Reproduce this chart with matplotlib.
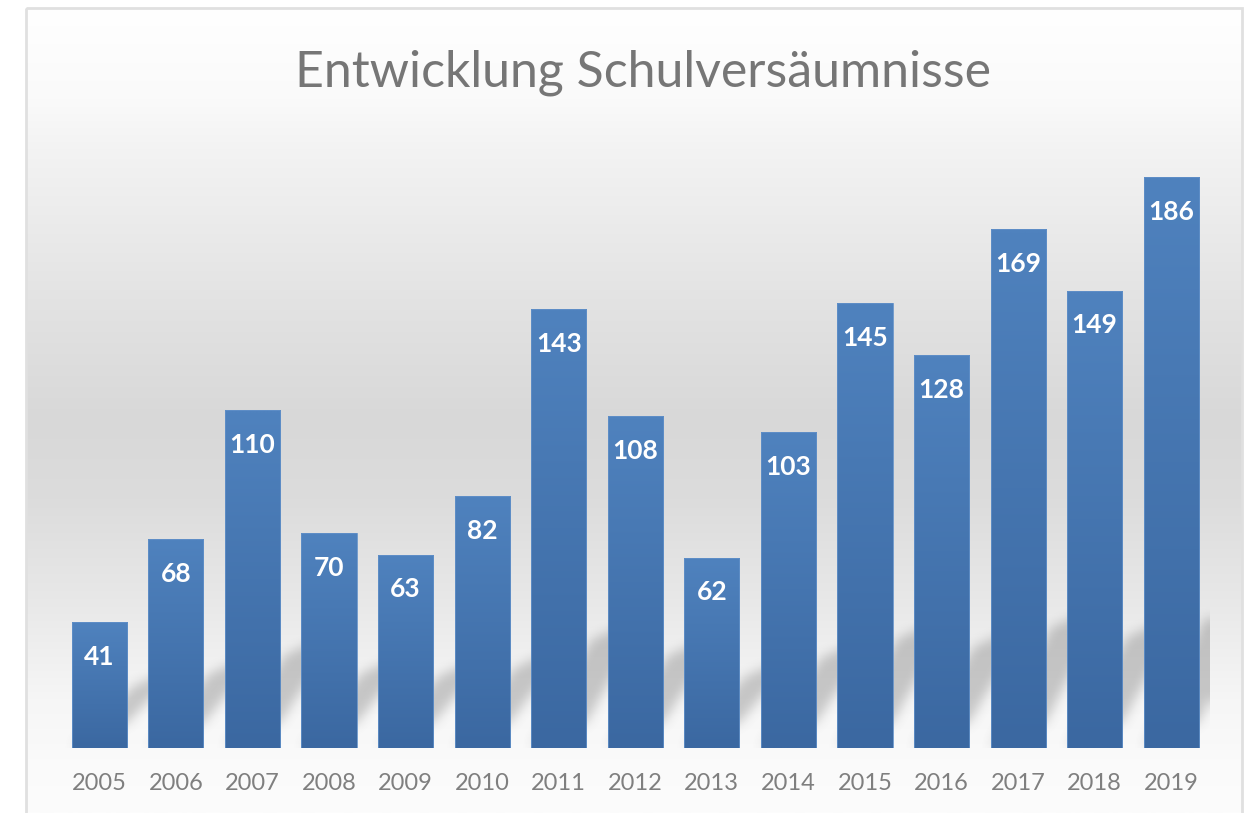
import numpy as np
import matplotlib
matplotlib.use("Agg")
import matplotlib.pyplot as plt
from matplotlib.colors import to_rgb
from matplotlib.patches import Rectangle

plt.rcParams['font.family'] = ['Lato', 'DejaVu Sans']

# Data
years = ['2005', '2006', '2007', '2008', '2009', '2010', '2011', '2012',
         '2013', '2014', '2015', '2016', '2017', '2018', '2019']
values = [41, 68, 110, 70, 63, 82, 143, 108, 62, 103, 145, 128, 169, 149, 186]
title = 'Entwicklung Schulversäumnisse'

W, H = 1256, 813
fig = plt.figure(figsize=(W / 100, H / 100), dpi=100)
fig.patch.set_facecolor('white')

# chart-area background: vertical grey gradient inside a light frame
bg = fig.add_axes([0, 0, 1, 1], zorder=0)
stops_y = [8, 100, 150, 300, 420, 500, 600, 700, 760, 813]
stops_g = [255, 250, 243, 227, 216, 220, 232, 246, 250, 252]
yy = np.arange(8, H + 1)
gray = np.interp(yy, stops_y, stops_g) / 255.0
grad = np.repeat(gray[:, None, None], 3, axis=2)
bg.imshow(grad, extent=(26, 1242, H, 8), aspect='auto', interpolation='bilinear')
bg.add_patch(Rectangle((26, 8), 1216, H, fill=False, edgecolor='#e0e0e0', lw=2))
bg.set_xlim(0, W)
bg.set_ylim(H, 0)
bg.axis('off')

# main plot area
ax_l, ax_r, ax_b, ax_t = 61, 1209.5, 748, 134
ax = fig.add_axes([ax_l / W, (H - ax_b) / H, (ax_r - ax_l) / W, (ax_b - ax_t) / H], zorder=1)
ax.patch.set_alpha(0)
x = np.arange(len(values))
bw = 0.72
ymax = 200
px_x = (ax_r - ax_l) / 15.0      # pixels per x unit
px_y = (ax_b - ax_t) / ymax      # pixels per y unit

# diagonal perspective shadow behind the bars, blurred
nx, ny = int(ax_r - ax_l), 260
sx = np.linspace(-0.5, 14.5, nx)
sy = np.linspace(0, ny / px_y, ny)
X, Y = np.meshgrid(sx, sy)
mask = np.zeros_like(X)
k = 0.45
Dx = 60.0
for xi, v in zip(x, values):
    Xp = (X - (xi - bw / 2)) * px_x
    Yp = Y * px_y
    T = 15 + 0.15 * v * px_y
    tt = (Yp - k * Xp) / T
    uu = Xp - Dx * tt
    inside = (tt >= 0) & (tt <= 1) & (uu >= 0) & (uu <= bw * px_x)
    mask[inside] = 1.0


def box_blur(a, r, axis):
    pad = [(0, 0), (0, 0)]
    pad[axis] = (r + 1, r)
    p = np.pad(a, pad, mode='edge')
    c = np.cumsum(p, axis=axis)
    if axis == 0:
        return (c[2 * r + 1:] - c[:-2 * r - 1]) / (2 * r + 1)
    return (c[:, 2 * r + 1:] - c[:, :-2 * r - 1]) / (2 * r + 1)


for _ in range(2):
    mask = box_blur(mask, 6, 0)
    mask = box_blur(mask, 6, 1)
shadow = np.zeros((ny, nx, 4))
shadow[..., :3] = 0.45
shadow[..., 3] = mask * 0.36
ax.imshow(shadow, extent=(-0.5, 14.5, 0, ny / px_y), origin='lower', aspect='auto',
          interpolation='bilinear', zorder=1)

# bars with a vertical gradient fill
bars = ax.bar(x, values, width=bw, color='none', edgecolor='#6190c8', lw=0.6, zorder=3)
top_c = np.array(to_rgb('#4f82be'))
bot_c = np.array(to_rgb('#3b68a1'))
t = np.linspace(0, 1, 64)[:, None]
bar_grad = (top_c * (1 - t) + bot_c * t)[:, None, :]
for b, xi, v in zip(bars, x, values):
    im = ax.imshow(bar_grad, extent=(xi - bw / 2, xi + bw / 2, 0, v),
                   aspect='auto', interpolation='bilinear', zorder=2)
    im.set_clip_path(b)
    ax.annotate(str(v), (xi, v), xytext=(0, -25), textcoords='offset points',
                ha='center', va='center', color='white', fontsize=19,
                fontweight='bold', zorder=4)

ax.set_xlim(-0.5, 14.5)
ax.set_ylim(0, ymax)
ax.set_xticks(x, years)
ax.set_yticks([])
ax.tick_params(axis='x', length=0, pad=18, labelsize=17, labelcolor='#7f7f7f')
for s in ax.spines.values():
    s.set_visible(False)

fig.text(643 / W, 1 - 73 / H, title, ha='center', va='center',
         fontsize=36, color='#767676')

fig.savefig('out.png', dpi=100)
